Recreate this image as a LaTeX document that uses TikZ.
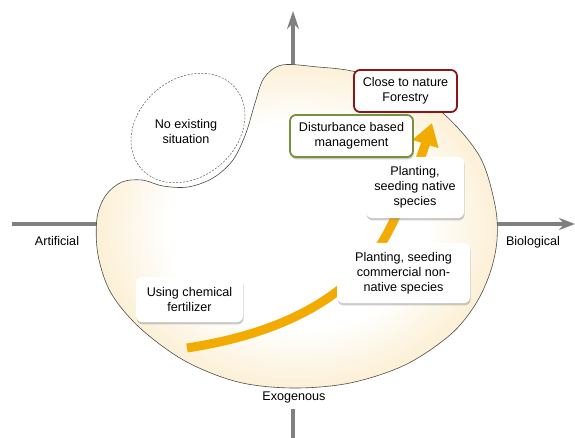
\documentclass[tikz,border=0pt]{standalone}
\usepackage{fontspec}
\setmainfont{Liberation Sans}
\usetikzlibrary{arrows.meta, shadows}
\definecolor{axisgray}{RGB}{128,128,128}
\definecolor{blobcream}{RGB}{252,240,214}
\definecolor{trendorange}{RGB}{242,171,0}
\definecolor{natred}{RGB}{140,22,22}
\definecolor{distgreen}{RGB}{118,146,60}
\pgfdeclareradialshading{blobglow}{\pgfpoint{0bp}{0bp}}{color(0bp)=(white); color(16bp)=(white); color(25bp)=(blobcream); color(50bp)=(blobcream)}

\begin{document}
\begin{tikzpicture}[x=1pt, y=-1pt, font=\fontsize{12.6}{15}\selectfont,
      axis/.style={draw=axisgray, line width=3.5pt},
      card/.style={fill=white, rounded corners=6pt, align=center, inner sep=2pt,
                   drop shadow={shadow xshift=0.6pt, shadow yshift=-2.4pt, fill=black!40}},
      framed/.style={card, line width=1.8pt},
      trend/.style={draw=trendorange, line width=9pt, -{Triangle[width=26pt, length=22pt]}}]
    \useasboundingbox (0,0) rectangle (575,438);
    % axes
    \coordinate (axL) at (12,224);
    \coordinate (axR) at (575,224);
    \coordinate (axB) at (293,438);
    \coordinate (axT) at (293,11);
    \draw[axis, -{Stealth[length=16pt, width=12pt]}] (axL) -- (axR);
    \draw[axis, -{Stealth[length=18pt, width=12pt]}] (axB) -- (axT);
    \node[fill=white, inner ysep=6pt] (exoLab) at (294,397) {Exogenous};
    \node (artLab) at (57,241) {Artificial};
    \node (bioLab) at (533,242) {Biological};
    % the blob
    \shadedraw[shading=blobglow, draw=black!70, line width=0.6pt]
      plot[smooth cycle, tension=0.55] coordinates {
        (282,65) (318,67) (352,71) (400,84) (445,115) (480,157) (495,205)
        (497,240) (490,273) (475,305) (450,335) (405,365) (350,383) (293,388)
        (238,382) (185,361) (140,328) (111,293) (98,255) (97,218) (106,195)
        (122,182) (142,180) (163,186) (188,187) (213,178) (233,160) (246,133)
        (255,103) (264,78)};
    \draw[black!65, line width=0.5pt, dash pattern=on 2pt off 1.5pt,
          rotate around={40:(188,128)}] (188,128) ellipse [x radius=62, y radius=49];
    \node (noSit) at (186,131) [align=center] {No existing\\situation};
    % trend
    \coordinate (trendStart) at (187,348);
    \coordinate (trendEnd) at (432,123);
    \draw[trend] (trendStart) .. controls (285,333) and (355,295) .. (388,232)
                 .. controls (405,200) and (422,155) .. (trendEnd);
    % steps
    \node[card, minimum width=107pt, minimum height=45pt] (chemFert) at (189.5,299.5)
         {Using chemical\\fertilizer};
    \node[card, minimum width=133pt, minimum height=60pt] (plantComm) at (403.5,273)
         {Planting, seeding\\commercial non-\\native species};
    \node[card, minimum width=98pt, minimum height=61pt] (plantNative) at (415,187.5)
         {Planting,\\seeding native\\species};
    \node[framed, draw=distgreen, minimum width=123pt, minimum height=42pt] (distMgmt) at (351.5,136)
         {Disturbance based\\management};
    \node[draw=natred, fill=white, rounded corners=6pt, line width=1.8pt, align=center,
          inner sep=2pt, minimum width=103pt, minimum height=42pt] (closeNat) at (405.5,91)
         {Close to nature\\Forestry};
\end{tikzpicture}
\end{document}
